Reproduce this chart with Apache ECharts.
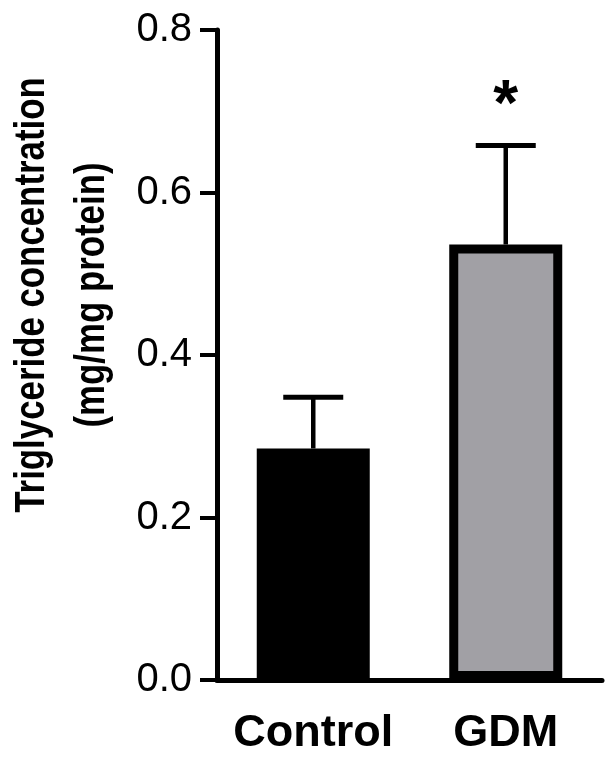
<!DOCTYPE html>
<html>
<head>
<meta charset="utf-8">
<script src="https://cdn.jsdelivr.net/npm/echarts@6/dist/echarts.min.js"></script>
<style>
html,body{margin:0;padding:0;background:#fff;}
#chart{width:612px;height:767px;}
</style>
</head>
<body>
<div id="chart"></div>
<script>
var categories = ['Control', 'GDM'];
var means = [0.285, 0.536];
var errors = [0.063, 0.122];
var significance = ['', '*'];
var barColors = ['#000000', '#a1a0a5'];
var yTicks = [0, 0.2, 0.4, 0.6, 0.8];
var yTitle = ['Triglyceride concentration', '(mg/mg protein)'];

var FONT = '"Liberation Sans", Arial, Helvetica, sans-serif';
var chart = echarts.init(document.getElementById('chart'));

var option = {
  animation: false,
  backgroundColor: '#ffffff',
  grid: { left: 217, right: 10, top: 30, bottom: 87, containLabel: false },
  xAxis: {
    type: 'category',
    data: categories,
    axisLine: { lineStyle: { color: '#000', width: 5 } },
    axisTick: { alignWithLabel: true, length: 16, lineStyle: { color: '#000', width: 4 } },
    axisLabel: { interval: 0, color: '#000', fontFamily: FONT, fontWeight: 'bold', fontSize: 45, margin: 31 }
  },
  yAxis: {
    type: 'value',
    min: yTicks[0],
    max: yTicks[yTicks.length - 1],
    interval: 0.2,
    axisLine: { show: true, lineStyle: { color: '#000', width: 5 } },
    axisTick: { show: true, length: 17, lineStyle: { color: '#000', width: 4 } },
    axisLabel: {
      color: '#000', fontFamily: FONT, fontSize: 40, margin: 25,
      formatter: function (v) { return v.toFixed(1); }
    },
    splitLine: { show: false }
  },
  graphic: [{
    type: 'text',
    x: 62, y: 295,
    rotation: Math.PI / 2,
    scaleX: 0.81,
    style: {
      text: yTitle.join('\n'),
      font: 'bold 43px ' + FONT,
      fill: '#000',
      align: 'center',
      verticalAlign: 'middle',
      lineHeight: 60
    }
  }],
  series: [
    {
      type: 'bar',
      barWidth: 113,
      data: means.map(function (m, i) {
        return { value: m, itemStyle: { color: barColors[i], borderColor: '#000', borderWidth: 9 } };
      }),
      z: 2
    },
    {
      type: 'custom',
      z: 3,
      data: means.map(function (m, i) { return [i, m, m + errors[i]]; }),
      renderItem: function (params, api) {
        var base = api.coord([api.value(0), api.value(1)]);
        var top = api.coord([api.value(0), api.value(2)]);
        var capHalf = 30;
        var children = [
          { type: 'line', shape: { x1: base[0], y1: base[1], x2: top[0], y2: top[1] },
            style: { stroke: '#000', lineWidth: 4.5 } },
          { type: 'line', shape: { x1: top[0] - capHalf, y1: top[1], x2: top[0] + capHalf, y2: top[1] },
            style: { stroke: '#000', lineWidth: 5 } }
        ];
        var s = significance[params.dataIndex];
        if (s) {
          children.push({ type: 'text', x: top[0], y: top[1] - 6,
            style: { text: s, font: 'bold 64px ' + FONT, fill: '#000', align: 'center', verticalAlign: 'bottom' } });
        }
        return { type: 'group', children: children };
      }
    }
  ]
};
chart.setOption(option);
</script>
</body>
</html>
